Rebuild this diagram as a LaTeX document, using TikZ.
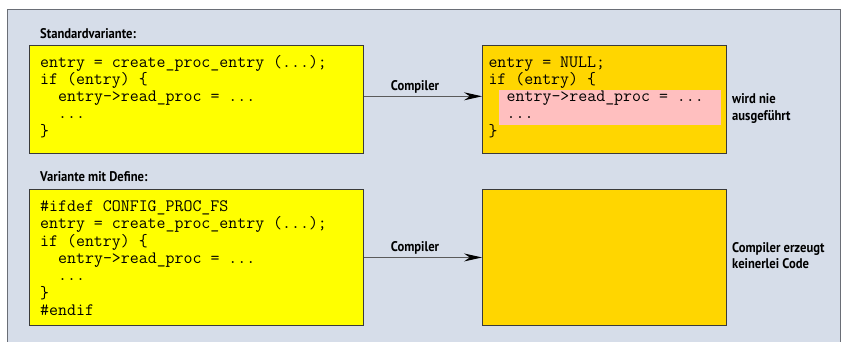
\documentclass[tikz,border=0pt]{standalone}
\usepackage{fontspec}
\usetikzlibrary{arrows.meta}
\setmonofont{Latin Modern Mono}
\newfontfamily\labfont[FakeStretch=0.9]{PT Sans Bold}
\definecolor{panel}{HTML}{D6DDE9}
\definecolor{panelline}{HTML}{6A6E76}
\definecolor{codeyellow}{HTML}{FFFF00}
\definecolor{resultgold}{HTML}{FFD600}
\definecolor{deadpink}{HTML}{FFBFBF}
\definecolor{boxline}{HTML}{3A3A3A}
\definecolor{arrowgray}{HTML}{5A5A5A}
\begin{document}
\begin{tikzpicture}[x=1pt,y=-1pt,
  code/.style={font=\ttfamily\fontsize{17.4}{19}\selectfont, inner sep=0, anchor=base west},
  lab/.style={font=\labfont\fontsize{14}{16}\selectfont, inner sep=0, anchor=base west},
  box/.style={draw=boxline, line width=0.9pt, inner sep=0, anchor=north west},
  flow/.style={draw=arrowgray, line width=1pt, -{Stealth[length=18pt,width=8pt,black]}}]

\useasboundingbox (0,0) rectangle (842,341);
\fill[white] (0,0) rectangle (842,341);
% background panel
\draw[fill=panel, draw=panelline, line width=0.9pt] (7.3,9.3) rectangle (840.7,360);

% ---- first variant ----
\node[lab] (titleA) at (40,38.3) {Standardvariante:};
\node[box, fill=codeyellow, minimum width=334.6pt, minimum height=107.7pt] (srcA) at (28.7,45) {};
\node[box, fill=resultgold, minimum width=244pt, minimum height=107.7pt] (dstA) at (482,45) {};
\fill[deadpink] (499,90) rectangle (721,125);

\node[code] (a1) at (40,67)   {entry = create\_proc\_entry (...);};
\node[code] (a2) at (40,84.3) {if (entry) \{};
\node[code] (a3) at (58,101.6) {entry->read\_proc = ...};
\node[code] (a4) at (58,118.9) {...};
\node[code] (a5) at (40,136.2) {\}};

\node[code] (b1) at (488.3,67)   {entry = NULL;};
\node[code] (b2) at (488.3,84.3) {if (entry) \{};
\node[code] (b3) at (506.5,101.6) {entry->read\_proc = ...};
\node[code] (b4) at (506.5,118.9) {...};
\node[code] (b5) at (488.3,136.2) {\}};

\draw[flow] ([yshift=3pt]srcA.east) -- ([yshift=3pt]dstA.west);
\node[lab] (compA) at (390.7,90) {Compiler};
\node[lab] (noteA1) at (732,103.3) {wird nie};
\node[lab] (noteA2) at (732,120.3) {ausgeführt};

% ---- second variant ----
\node[lab] (titleB) at (40,181.5) {Variante mit Define:};
\node[box, fill=codeyellow, minimum width=334.6pt, minimum height=136pt] (srcB) at (28.7,189) {};
\node[box, fill=resultgold, minimum width=244pt, minimum height=136pt] (dstB) at (482,189) {};

\node[code] (c1) at (40,211.5) {\#ifdef CONFIG\_PROC\_FS};
\node[code] (c2) at (40,228.8) {entry = create\_proc\_entry (...);};
\node[code] (c3) at (40,246.1) {if (entry) \{};
\node[code] (c4) at (58,263.4) {entry->read\_proc = ...};
\node[code] (c5) at (58,280.7) {...};
\node[code] (c6) at (40,298)   {\}};
\node[code] (c7) at (40,315.3) {\#endif};

\draw[flow] (srcB.east) -- (dstB.west);
\node[lab] (compB) at (390.7,251.7) {Compiler};
\node[lab] (noteB1) at (732,252.3) {Compiler erzeugt};
\node[lab] (noteB2) at (732,268.3) {keinerlei Code};
\end{tikzpicture}
\end{document}
